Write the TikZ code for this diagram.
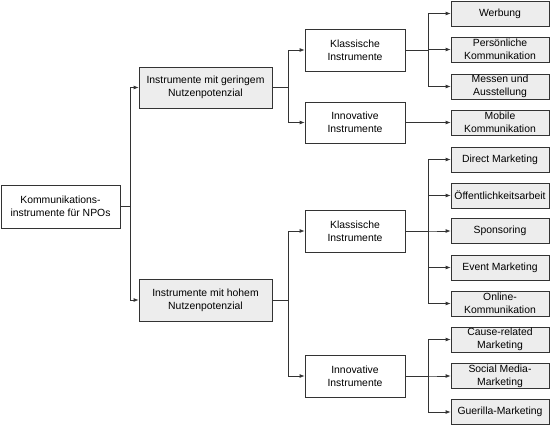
\documentclass[tikz,border=0pt]{standalone}
\usepackage{fontspec}
\setmainfont{Liberation Sans}
\usetikzlibrary{arrows.meta}
\begin{document}
\begin{tikzpicture}[x=1pt,y=-1pt,
 box/.style={draw=black!80, line width=0.8pt, align=center, font=\fontsize{10.4}{13}\selectfont, inner sep=0pt},
 wbox/.style={box, fill=white},
 gbox/.style={box, fill=gray!14},
 leaf/.style={gbox, minimum width=98pt, minimum height=25pt},
 lvl2/.style={wbox, minimum width=100pt, minimum height=42pt},
 lvl1/.style={gbox, minimum width=133pt, minimum height=42pt},
 conn/.style={draw=black!80, line width=0.8pt},
 arr/.style={conn, -{Latex[length=5pt,width=4pt]}}]
\useasboundingbox (0,0) rectangle (553,425);
% root
\node[wbox, minimum width=119pt, minimum height=43pt] (root) at (60.5,206.5) {Kommunikations-\\instrumente für NPOs};
% level 1
\node[lvl1, minimum height=41pt] (g) at (205.5,87.5) {Instrumente mit geringem\\Nutzenpotenzial};
\node[lvl1] (h) at (205.5,300) {Instrumente mit hohem\\Nutzenpotenzial};
% level 2
\node[lvl2] (gk) at (355,50) {Klassische\\Instrumente};
\node[lvl2, minimum height=41pt] (gi) at (355,122.5) {Innovative\\Instrumente};
\node[lvl2] (hk) at (355,231) {Klassische\\Instrumente};
\node[lvl2] (hi) at (355,376) {Innovative\\Instrumente};
% leaves
\node[leaf] (l1) at (500,13.5) {Werbung};
\node[leaf] (l2) at (500,49.5) {Persönliche\\Kommunikation};
\node[leaf] (l3) at (500,86.5) {Messen und\\Ausstellung};
\node[leaf] (l4) at (500,122.5) {Mobile\\Kommunikation};
\node[leaf] (l5) at (500,159.5) {Direct Marketing};
\node[leaf] (l6) at (500,195.5) {Öffentlichkeitsarbeit};
\node[leaf] (l7) at (500,231) {Sponsoring};
\node[leaf] (l8) at (500,267.5) {Event Marketing};
\node[leaf] (l9) at (500,303.5) {Online-\\Kommunikation};
\node[leaf] (l10) at (500,339.5) {Cause-related\\Marketing};
\node[leaf] (l11) at (500,376) {Social Media-\\Marketing};
\node[leaf] (l12) at (500,412) {Guerilla-Marketing};
% connectors
\draw[arr] (root.east) -- ++(10,0) |- (g.west);
\draw[arr] (root.east) -- ++(10,0) |- (h.west);
\draw[arr] (g.east) -- ++(16,0) |- (gk.west);
\draw[arr] (g.east) -- ++(16,0) |- (gi.west);
\draw[arr] (h.east) -- ++(16,0) |- (hk.west);
\draw[arr] (h.east) -- ++(16,0) |- (hi.west);
\foreach \l in {l1,l2,l3} \draw[arr] (gk.east) -- ++(23,0) |- (\l.west);
\draw[arr] (gi.east) -- (l4.west);
\foreach \l in {l5,l6,l7,l8,l9} \draw[arr] (hk.east) -- ++(23,0) |- (\l.west);
\foreach \l in {l10,l11,l12} \draw[arr] (hi.east) -- ++(23,0) |- (\l.west);
\end{tikzpicture}
\end{document}
